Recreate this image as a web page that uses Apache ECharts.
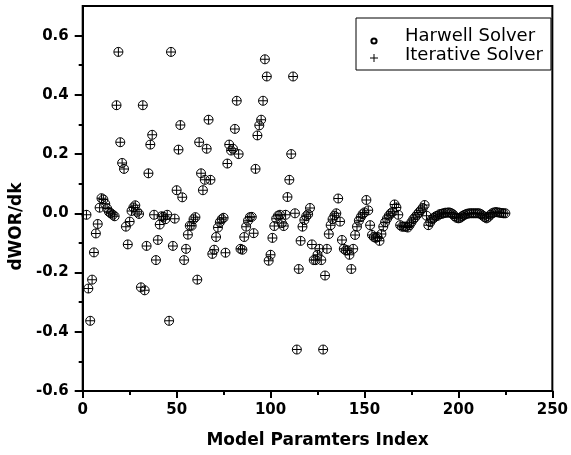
<!DOCTYPE html>
<html>
<head>
<meta charset="utf-8">
<script src="https://cdn.jsdelivr.net/npm/echarts@6/dist/echarts.min.js"></script>
<style>html,body{margin:0;padding:0;background:#fff;}#c{width:571px;height:455px;}</style>
</head>
<body>
<div id="c"></div>
<script>
// Model parameter index of the first value
const firstIndex = 2;
// dWOR/dk values, parameters 2..75
const valuesA = [-0.005,-0.254,-0.363,-0.224,-0.132,-0.068,-0.036,0.019,0.051,0.047,0.032,0.016,0.005,0.0,-0.005,-0.01,
  0.365,0.545,0.24,0.17,0.15,-0.045,-0.105,-0.028,0.008,0.02,0.027,0.005,-0.002,-0.25,0.365,-0.26,-0.11,0.135,0.232,0.265,
  -0.005,-0.158,-0.09,-0.038,-0.01,-0.012,-0.02,-0.005,-0.363,0.545,-0.11,-0.018,0.078,0.215,0.298,0.054,-0.158,-0.12,
  -0.072,-0.042,-0.042,-0.02,-0.013,-0.224,0.24,0.135,0.078,0.113,0.218,0.316,0.113,-0.137,-0.123,-0.08,-0.048,-0.03,-0.02,-0.015];
// parameters 76..150
const valuesB = [-0.133,0.168,0.232,0.212,0.218,0.285,0.38,0.2,-0.12,-0.123,-0.08,-0.045,-0.025,-0.013,-0.012,-0.067,
  0.15,0.263,0.297,0.316,0.38,0.52,0.462,-0.16,-0.14,-0.083,-0.043,-0.018,-0.008,-0.005,-0.033,-0.043,-0.005,0.055,0.113,
  0.2,0.462,0.0,-0.46,-0.188,-0.093,-0.045,-0.023,-0.01,-0.003,0.018,-0.105,-0.158,-0.158,-0.14,-0.12,-0.158,-0.46,-0.21,
  -0.12,-0.07,-0.04,-0.02,-0.008,0.0,0.05,-0.028,-0.09,-0.12,-0.125,-0.125,-0.14,-0.188,-0.12,-0.073,-0.045,-0.025,-0.013,-0.003,0.003];
// parameters 151..225
const valuesC = [0.045,0.01,-0.04,-0.073,-0.08,-0.083,-0.08,-0.093,-0.07,-0.045,-0.03,-0.018,-0.008,0.0,0.005,0.03,0.02,
  -0.005,-0.04,-0.045,-0.045,-0.045,-0.048,-0.04,-0.03,-0.02,-0.013,-0.005,0.003,0.01,0.018,0.028,-0.008,-0.04,-0.03,-0.02,
  -0.015,-0.01,-0.008,-0.003,-0.002,0.0,0.002,0.002,0.003,0.001,-0.003,-0.01,-0.015,-0.017,-0.015,-0.01,-0.006,-0.003,-0.001,
  0.0,0.0,0.0,0.0,0.0,0.0,-0.003,-0.008,-0.013,-0.017,-0.012,-0.005,0.0,0.003,0.004,0.003,0.002,0.001,0.0,0.0];
const harwell = valuesA.concat(valuesB, valuesC);
const iterative = harwell.slice(); // both solvers give the same sensitivities
const yMajorTicks = [-0.6,-0.4,-0.2,0.0,0.2,0.4,0.6];
const yMinorTicks = [-0.5,-0.3,-0.1,0.1,0.3,0.5];
const xMinorTicks = [25,75,125,175,225];

const toPairs = arr => arr.map((v, i) => [firstIndex + i, v]);
const FONT = 'DejaVu Sans';
const PLUS = 'path://M-0.5,-4.5H0.5V-0.5H4.5V0.5H0.5V4.5H-0.5V0.5H-4.5V-0.5H-0.5Z';
// legend icons: invisible move-to points set the icon box (41 x 18 px) so the glyph sits where the reference has it
const RING_ICON = 'path://M-15,-13.5M26,4.5M0,-3.6A3.6,3.6 0 1,1 0,3.6A3.6,3.6 0 1,1 0,-3.6ZM0,-1.6A1.6,1.6 0 1,0 0,1.6A1.6,1.6 0 1,0 0,-1.6Z';
const PLUS_ICON = 'path://M-15,-11.5M26,6.5M-0.5,-4H0.5V-0.5H4V0.5H0.5V4H-0.5V0.5H-4V-0.5H-0.5Z';

const chart = echarts.init(document.getElementById('c'), null, {renderer: 'canvas'});
const axisLine = {show: true, onZero: false, lineStyle: {color: '#000', width: 2}};
chart.setOption({
  backgroundColor: '#fff',
  animation: false,
  grid: {left: 81, right: 15, top: 6, bottom: 64, show: true, borderColor: '#000', borderWidth: 2, backgroundColor: 'transparent'},
  legend: {
    orient: 'vertical', left: 356, top: 18,
    padding: [9, 8, 5, 3], itemGap: 0, itemWidth: 41, itemHeight: 18,
    borderColor: '#000', borderWidth: 1, backgroundColor: '#fff',
    selectedMode: false,
    textStyle: {fontFamily: FONT, fontSize: 18, color: '#000', lineHeight: 19, width: 136},
    data: [
      {name: 'Harwell Solver', icon: RING_ICON, itemStyle: {color: '#000', borderWidth: 0}},
      {name: 'Iterative Solver', icon: PLUS_ICON, itemStyle: {color: '#000', borderWidth: 0}}
    ]
  },
  xAxis: [{
    type: 'value', min: 0, max: 250, interval: 50, position: 'bottom',
    axisLine: axisLine,
    axisTick: {show: true, length: 7, lineStyle: {color: '#000', width: 2}},
    axisLabel: {fontFamily: FONT, fontWeight: 'bold', fontSize: 15, color: '#000', margin: 12},
    splitLine: {show: false},
    name: 'Model Paramters Index', nameLocation: 'middle', nameGap: 41,
    nameTextStyle: {fontFamily: FONT, fontWeight: 'bold', fontSize: 17, color: '#000'}
  }, {
    type: 'value', min: 0, max: 250, interval: 25, position: 'bottom',
    axisLine: {show: false, onZero: false},
    axisTick: {show: true, length: 4, customValues: xMinorTicks, lineStyle: {color: '#000', width: 2}},
    axisLabel: {show: false}, splitLine: {show: false}
  }],
  yAxis: [{
    type: 'value', min: -0.6, max: 0.7, interval: 0.2, position: 'left',
    axisLine: axisLine,
    axisTick: {show: true, length: 8, customValues: yMajorTicks, lineStyle: {color: '#000', width: 2}},
    axisLabel: {customValues: yMajorTicks, fontFamily: FONT, fontWeight: 'bold', fontSize: 15, color: '#000', margin: 14,
      formatter: v => v.toFixed(1)},
    splitLine: {show: false},
    name: 'dWOR/dk', nameLocation: 'middle', nameGap: 50, nameRotate: 90,
    nameTextStyle: {fontFamily: FONT, fontWeight: 'bold', fontSize: 17, color: '#000', padding: [0, 56, 0, 0]}
  }, {
    type: 'value', min: -0.6, max: 0.7, interval: 0.1, position: 'left',
    axisLine: {show: false, onZero: false},
    axisTick: {show: true, length: 4, customValues: yMinorTicks, lineStyle: {color: '#000', width: 2}},
    axisLabel: {show: false}, splitLine: {show: false}
  }],
  series: [{
    name: 'Harwell Solver', type: 'scatter', xAxisIndex: 0, yAxisIndex: 0,
    symbol: 'circle', symbolSize: 9,
    itemStyle: {color: 'rgba(0,0,0,0)', borderColor: '#000', borderWidth: 1, opacity: 1},
    data: toPairs(harwell)
  }, {
    name: 'Iterative Solver', type: 'scatter', xAxisIndex: 0, yAxisIndex: 0,
    symbol: PLUS, symbolSize: 9,
    itemStyle: {color: '#000', borderWidth: 0, opacity: 1},
    data: toPairs(iterative)
  }]
});
</script>
</body>
</html>
